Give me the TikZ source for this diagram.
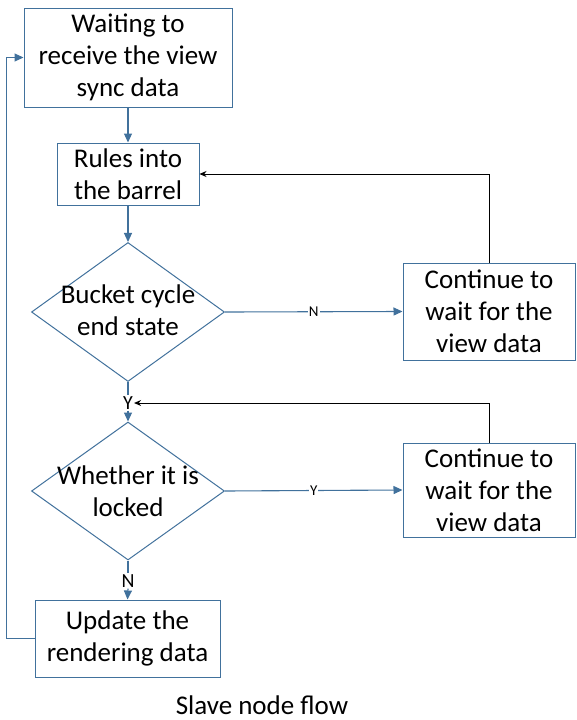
\documentclass[tikz,border=0pt]{standalone}
\usepackage{fontspec}
\setmainfont{Carlito}
\usetikzlibrary{arrows,arrows.meta}
\usetikzlibrary{calc}
\usetikzlibrary{positioning}
\usetikzlibrary{shapes.geometric}
\definecolor{flowblue}{RGB}{65,113,156}

\begin{document}
\begin{tikzpicture}[
  x=1pt, y=-1pt,
  > = latex,
  every node/.style={font=\fontsize{27}{32}\selectfont, align=center},
  stepbox/.style = {draw=flowblue, line width=1pt, rectangle, inner sep=0pt},
  choice/.style = {draw=flowblue, line width=1pt, diamond, inner sep=0pt},
  flow/.style = {draw=flowblue, line width=1.1pt, -{Triangle[length=9pt,width=8pt]}},
  plain/.style = {draw=flowblue, line width=1.1pt},
  back/.style = {draw=black, line width=0.9pt, -{Stealth[length=7pt,width=6pt]}},
  tag/.style = {fill=white, inner sep=1pt, font=\fontsize{15}{16}\selectfont},
  bigtag/.style = {fill=white, inner sep=1pt, font=\fontsize{20}{22}\selectfont}
  ]
  \useasboundingbox (0,0) rectangle (576,720);

  \node[stepbox, minimum width=208pt, minimum height=99pt] (wait) at (128,57.5) {Waiting to\\receive the view\\sync data};
  \node[stepbox, minimum width=142pt, minimum height=62pt] (rules) at (128,174) {Rules into\\the barrel};

  \node[choice, minimum width=193pt, minimum height=139pt] (cycle) at (128,312) {};
  \node at (128,310) {Bucket cycle\\end state};
  \node[bigtag] (yes) at (128,403) {Y};

  \node[choice, minimum width=193pt, minimum height=138pt] (locked) at (128,491) {};
  \node at (128,491) {Whether it is\\locked};
  \node[bigtag] (no) at (128,581) {N};

  \node[stepbox, minimum width=185pt, minimum height=77pt] (update) at (127.5,638.5) {Update the\\rendering data};

  \node[stepbox, minimum width=172pt, minimum height=97pt] (cont1) at (489,311.5) {Continue to\\wait for the\\view data};
  \node[stepbox, minimum width=172pt, minimum height=94pt] (cont2) at (489,490) {Continue to\\wait for the\\view data};

  \node[anchor=base, inner sep=0pt] (caption) at (262,714) {Slave node flow};

  \draw[flow] (wait) -- (rules);
  \draw[flow] (rules) -- (cycle);
  \draw[plain] (cycle.south) -- (yes.north);
  \draw[flow] (yes.south) -- (locked.north);
  \draw[plain] (locked.south) -- (no.north);
  \draw[flow] (no.south) -- (update.north);

  \draw[flow] (cycle.east) -- node[tag] {N} (cont1.west);
  \draw[flow] (locked.east) -- node[tag] {Y} (cont2.west);

  \draw[back] (cont1.north) |- (rules.east);
  \draw[back] (cont2.north) |- (yes.east);

  \draw[flow] (update.west) -- ++(-28,0) |- (wait.west);
\end{tikzpicture}
\end{document}
